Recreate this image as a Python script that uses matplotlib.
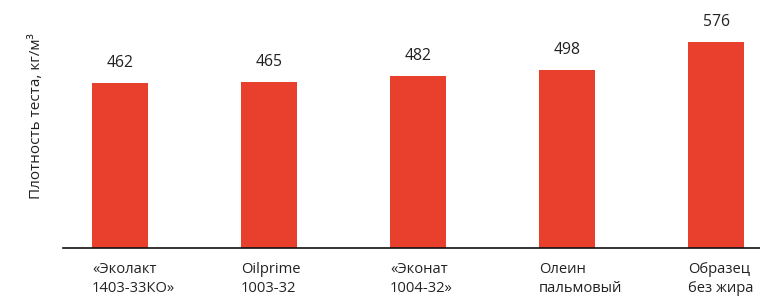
import matplotlib
matplotlib.use("Agg")
import matplotlib.pyplot as plt
import matplotlib.transforms as mtransforms

plt.rcParams['font.family'] = ['Open Sans', 'DejaVu Sans']

categories = ["«Эколакт\n1403-33КО»", "Oilprime\n1003-32", "«Эконат\n1004-32»",
              "Олеин\nпальмовый", "Образец\nбез жира"]
values = [462, 465, 482, 498, 576]
value_labels = ["462", "465", "482", "498", "576"]

RED = "#E8402D"
TEXT = "#222222"

fig = plt.figure(figsize=(7.6, 2.98), dpi=100)
ax = fig.add_axes([63/760, 49.7/298, 697/760, 248.3/298])

x = list(range(len(values)))
width = 0.376
ax.bar(x, values, width=width, color=RED, zorder=2)

ax.set_xlim(-0.383, 4.295)
ax.set_ylim(0, 694)

for xi, v, lab in zip(x, values, value_labels):
    ax.annotate(lab, (xi, v), xytext=(0, 8.5), textcoords="offset points",
                ha="center", va="bottom", fontsize=11.3, color=TEXT)

trans = mtransforms.blended_transform_factory(ax.transData, ax.transAxes)
for xi, cat in zip(x, categories):
    ax.text(xi - width/2, -0.055, cat, transform=trans, ha="left", va="top",
            fontsize=10.6, color=TEXT, linespacing=1.38)

for s in ["top", "right", "left"]:
    ax.spines[s].set_visible(False)
ax.spines["bottom"].set_color("#111111")
ax.spines["bottom"].set_linewidth(1.2)
ax.set_xticks([])
ax.set_yticks([])

fig.text(37/760, 1 - 116/298, "Плотность теста, кг/м³", rotation=90,
         ha="center", va="center", fontsize=11, color=TEXT)

fig.savefig("out.png", dpi=100)
